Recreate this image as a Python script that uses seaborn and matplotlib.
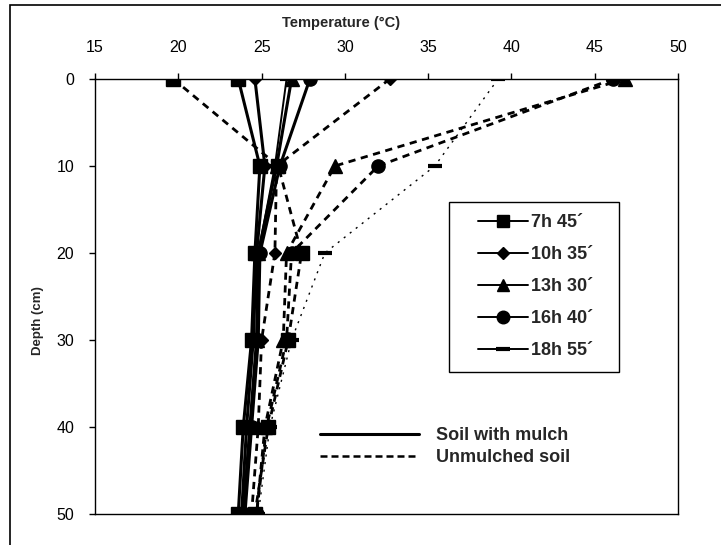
import numpy as np
import pandas as pd
import matplotlib
matplotlib.use("Agg")
import matplotlib.pyplot as plt
import seaborn as sns
from matplotlib.lines import Line2D
from matplotlib.patches import Rectangle

# ---------------- data ----------------
depth = [0, 10, 20, 30, 40, 50]
times = ["7h 45´", "10h 35´", "13h 30´", "16h 40´", "18h 55´"]

mulch_7h45 = [23.6, 24.9, 24.6, 24.4, 23.9, 23.6]
mulch_10h35 = [24.6, 25.2, 24.7, 24.5, 24.1, 23.8]
mulch_13h30 = [26.8, 25.9, 24.8, 24.7, 24.3, 23.9]
mulch_16h40 = [27.9, 26.1, 24.9, 24.8, 24.4, 24.0]
mulch_18h55 = [26.5, 25.8, 24.8, 24.7, 24.3, 23.9]

bare_7h45 = [19.7, 26.0, 27.4, 26.6, 25.4, 24.6]
bare_10h35 = [32.7, 25.9, 25.8, 25.0, 24.8, 24.4]
bare_13h30 = [46.8, 29.4, 26.5, 26.3, 25.2, 24.7]
bare_16h40 = [46.1, 32.0, 26.8, 26.5, 25.3, 24.7]
bare_18h55 = [39.2, 35.4, 28.8, 26.8, 25.5, 24.8]

soil_labels = ["Soil with mulch", "Unmulched soil"]
x_ticks = [15, 20, 25, 30, 35, 40, 45, 50]
y_ticks = [0, 10, 20, 30, 40, 50]

mulch_series = [mulch_7h45, mulch_10h35, mulch_13h30, mulch_16h40, mulch_18h55]
bare_series = [bare_7h45, bare_10h35, bare_13h30, bare_16h40, bare_18h55]

rows = []
for t, vals in zip(times, mulch_series):
    for d, v in zip(depth, vals):
        rows.append({"soil": soil_labels[0], "time": t, "depth": d, "temp": v})
for t, vals in zip(times, bare_series):
    for d, v in zip(depth, vals):
        rows.append({"soil": soil_labels[1], "time": t, "depth": d, "temp": v})
df = pd.DataFrame(rows)

# ---------------- style ----------------
sns.set_theme(style="white")
plt.rcParams["font.family"] = ["Liberation Sans", "DejaVu Sans"]

markers = {times[0]: "s", times[1]: "D", times[2]: "^", times[3]: "o", times[4]: "_"}
msizes = {times[0]: 9.5, times[1]: 6.5, times[2]: 9.5, times[3]: 9.5, times[4]: 10}

W, H = 721, 545
AX_L, AX_R, AX_T, AX_B = 95, 678, 79, 514
fig = plt.figure(figsize=(W / 100, H / 100), dpi=100)
ax = fig.add_axes([AX_L / W, 1 - AX_B / H, (AX_R - AX_L) / W, (AX_B - AX_T) / H])


def axx(px):
    return (px - AX_L) / (AX_R - AX_L)


def axy(py):
    return (AX_B - py) / (AX_B - AX_T)


for soil in soil_labels:
    for t in times:
        sub = df[(df.soil == soil) & (df.time == t)]
        if soil == soil_labels[0]:
            ls = "-"
            lw = 1.4 if t == times[4] else 2.2
            z = 4
        else:
            if t == times[4]:
                ls = (0, (1.5, 4))
                lw = 1.0
            else:
                ls = (0, (2.6, 2.0))
                lw = 2.0
            z = 3
        sns.lineplot(data=sub, x="temp", y="depth", sort=False, estimator=None,
                     color="black", linestyle=ls, linewidth=lw,
                     marker=markers[t], markersize=msizes[t],
                     markeredgewidth=3 if t == times[4] else 1,
                     markerfacecolor="black", markeredgecolor="black",
                     legend=False, ax=ax, zorder=z)

ax.set_xlim(15, 50)
ax.set_ylim(50, 0)
ax.set_xticks(x_ticks)
ax.set_yticks(y_ticks)
ax.xaxis.tick_top()
ax.xaxis.set_label_position("top")
ax.tick_params(axis="both", direction="out", length=4, width=1, color="black",
               labelsize=11.5, labelcolor="black")
ax.tick_params(axis="x", top=True, bottom=False, pad=13)
ax.tick_params(axis="y", left=True, pad=11)
ax.set_xlabel("Temperature (°C)", fontsize=10.5, fontweight="bold")
ax.set_ylabel("Depth (cm)", fontsize=9.5, fontweight="bold")
ax.xaxis.set_label_coords(axx(341), axy(27))
ax.yaxis.set_label_coords(axx(44), axy(321))
for s in ax.spines.values():
    s.set_visible(True)
    s.set_color("black")
    s.set_linewidth(1.0)

# legend 1: times (box drawn separately)
h1 = [Line2D([], [], color="black", lw=1.4, marker=markers[t],
             markersize=msizes[t] * 0.95, markeredgewidth=3 if t == times[4] else 1)
      for t in times]
leg1 = ax.legend(h1, times, loc="upper left", bbox_to_anchor=(axx(478), axy(214)),
                 fontsize=13, frameon=False, handlelength=2.75, handletextpad=0.17,
                 labelspacing=0.83, borderpad=0, borderaxespad=0)
for txt in leg1.get_texts():
    txt.set_fontweight("bold")
ax.add_artist(leg1)
ax.add_patch(Rectangle((axx(449), axy(372)), axx(619) - axx(449), axy(202) - axy(372),
                       transform=ax.transAxes, fill=False, edgecolor="black",
                       lw=1.0, zorder=6))

# legend 2: soil types
h2 = [Line2D([], [], color="black", lw=2.2, ls="-"),
      Line2D([], [], color="black", lw=1.8, ls=(0, (2.8, 1.6)))]
leg2 = ax.legend(h2, soil_labels, loc="upper left", bbox_to_anchor=(axx(320), axy(427)),
                 fontsize=13, frameon=False, handlelength=5.5,
                 handletextpad=0.94, labelspacing=0.3, borderpad=0, borderaxespad=0)
for txt in leg2.get_texts():
    txt.set_fontweight("bold")

# outer chart frame
fig.add_artist(Rectangle((10 / W, -0.2), 1.2, 1.2 - 5 / H,
                         transform=fig.transFigure, fill=False,
                         edgecolor="black", lw=1.2))

fig.savefig("out.png", dpi=100)
